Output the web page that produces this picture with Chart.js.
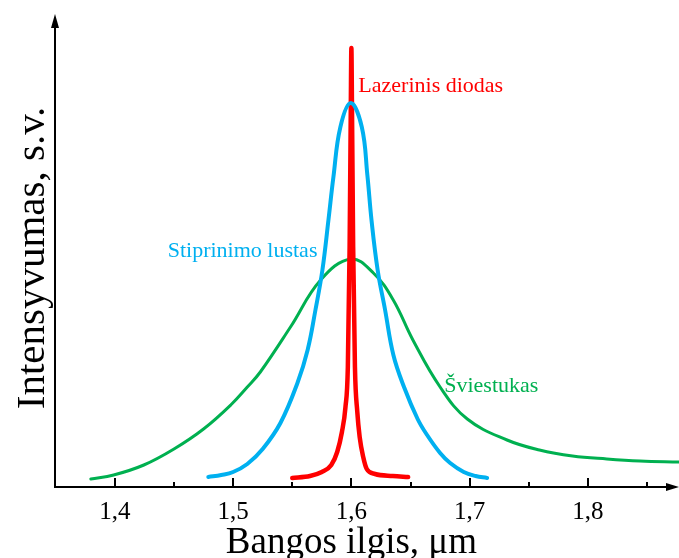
<!DOCTYPE html>
<html><head><meta charset="utf-8">
<script src="https://cdn.jsdelivr.net/npm/chart.js@4"></script>
<style>html,body{margin:0;padding:0;background:#fff}</style>
</head><body>
<canvas id="c" width="679" height="558"></canvas>
<script>
// ---- data (wavelength in µm, intensity in arbitrary units) ----
const greenX = [1.3797,1.399,1.4245,1.45,1.475,1.498,1.512,1.523,1.5485,1.574,1.5995,1.6186,1.6354,1.652,1.675,1.698,1.7316,1.759,1.787,1.816,1.844,1.877];
const greenY = [8,12,22,38,58,82,100,115,160,207,228,214,187,147,100,68,47,37,31,28,26,25];

const blueX = [1.479,1.49,1.5,1.512,1.525,1.54,1.5544,1.563,1.5696,1.5755,1.5806,1.5848,1.5907,1.5995,1.6088,1.6135,1.617,1.6222,1.6285,1.6355,1.6445,1.656,1.664,1.675,1.6835,1.695,1.705,1.7148];
const blueY = [10,12,15,23,38,64,104,137,177,217,267,310,360,384,360,312,267,217,177,132,100,68,52,34,24,15,11,9];

const redX = [1.55,1.565,1.575,1.583,1.588,1.592,1.595,1.597,1.5985,1.5995,1.6,1.6005,1.6015,1.603,1.605,1.607,1.61,1.613,1.62,1.635,1.648];
const redY = [9,11,15,22,35,55,80,120,240,380,439,380,240,120,75,50,30,18,13,11,10];

const seriesNames = ['Stiprinimo lustas','Lazerinis diodas','Šviestukas'];
const majorTicks = [1.4,1.5,1.6,1.7,1.8];
const minorTicks = [1.45,1.55,1.65,1.75,1.85];
const xTitle = 'Bangos ilgis, μm';
const yTitle = 'Intensyvumas, s.v.';
const xMin = 1.3494, xMax = 1.877, yMax = 472;

const toPts = (xs, ys) => xs.map((x, i) => ({x, y: ys[i]}));
const SERIF = "'Liberation Serif','Times New Roman',serif";

const overlay = {
  id: 'overlay',
  afterDraw(chart) {
    const ctx = chart.ctx, ca = chart.chartArea, xs = chart.scales.x, ys = chart.scales.y;
    ctx.save();
    ctx.strokeStyle = '#000'; ctx.fillStyle = '#000'; ctx.lineWidth = 2;
    // y axis with arrow
    ctx.beginPath(); ctx.moveTo(ca.left, ca.bottom + 1); ctx.lineTo(ca.left, ca.top + 8); ctx.stroke();
    ctx.beginPath(); ctx.moveTo(ca.left, ca.top - 1); ctx.lineTo(ca.left - 4, ca.top + 13); ctx.lineTo(ca.left + 4, ca.top + 13); ctx.closePath(); ctx.fill();
    // x axis with arrow
    ctx.beginPath(); ctx.moveTo(ca.left - 1, ca.bottom); ctx.lineTo(ca.right - 8, ca.bottom); ctx.stroke();
    ctx.beginPath(); ctx.moveTo(ca.right, ca.bottom); ctx.lineTo(ca.right - 13, ca.bottom - 4); ctx.lineTo(ca.right - 13, ca.bottom + 4); ctx.closePath(); ctx.fill();
    // ticks pointing up
    majorTicks.forEach(v => { const p = Math.round(xs.getPixelForValue(v)); ctx.beginPath(); ctx.moveTo(p, ca.bottom); ctx.lineTo(p, ca.bottom - 9); ctx.stroke(); });
    minorTicks.forEach(v => { const p = Math.round(xs.getPixelForValue(v)); ctx.beginPath(); ctx.moveTo(p, ca.bottom); ctx.lineTo(p, ca.bottom - 5); ctx.stroke(); });
    // axis titles
    ctx.font = '37px ' + SERIF; ctx.textAlign = 'center'; ctx.textBaseline = 'alphabetic';
    ctx.fillText(xTitle, xs.getPixelForValue(1.6), 553);
    ctx.save(); ctx.translate(44, ys.getPixelForValue(229)); ctx.rotate(-Math.PI / 2);
    ctx.font = '41px ' + SERIF; ctx.fillText(yTitle, 0, 0); ctx.restore();
    // series labels
    ctx.font = '22px ' + SERIF; ctx.textAlign = 'left';
    ctx.fillStyle = '#ff0000'; ctx.fillText(seriesNames[1], xs.getPixelForValue(1.6059), ys.getPixelForValue(395));
    ctx.fillStyle = '#00b0f0'; ctx.fillText(seriesNames[0], xs.getPixelForValue(1.4447), ys.getPixelForValue(230));
    ctx.fillStyle = '#00b050'; ctx.fillText(seriesNames[2], xs.getPixelForValue(1.6785), ys.getPixelForValue(95));
    ctx.restore();
  }
};

new Chart(document.getElementById('c'), {
  type: 'line',
  data: {
    datasets: [
      { label: seriesNames[0], data: toPts(blueX, blueY), borderColor: '#00b0f0', borderWidth: 4, tension: 0.4 },
      { label: seriesNames[1], data: toPts(redX, redY), borderColor: '#ff0000', borderWidth: 4.5, cubicInterpolationMode: 'monotone' },
      { label: seriesNames[2], data: toPts(greenX, greenY), borderColor: '#00b050', borderWidth: 3, tension: 0.4 }
    ]
  },
  options: {
    responsive: false, animation: false,
    layout: { padding: { left: 55, top: 15, right: 0, bottom: 0 } },
    elements: { point: { radius: 0 }, line: { fill: false, borderCapStyle: 'round' } },
    plugins: { legend: { display: false }, tooltip: { enabled: false } },
    scales: {
      x: {
        type: 'linear', min: xMin, max: xMax,
        grid: { display: false, drawTicks: false }, border: { display: false },
        afterBuildTicks: s => { s.ticks = majorTicks.map(v => ({ value: v })); },
        afterFit: s => { s.height = 71; },
        ticks: { padding: 10, color: '#000', font: { family: SERIF, size: 25 }, maxRotation: 0,
          callback: v => v.toFixed(1).replace('.', ',') }
      },
      y: { type: 'linear', min: 0, max: yMax, display: false }
    }
  },
  plugins: [overlay]
});
</script>
</body></html>
